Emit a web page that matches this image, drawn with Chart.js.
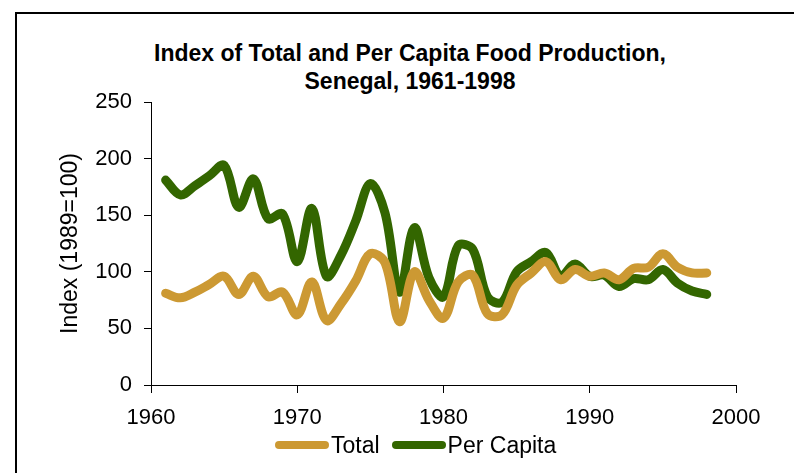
<!DOCTYPE html>
<html>
<head>
<meta charset="utf-8">
<script src="https://cdn.jsdelivr.net/npm/chart.js@4"></script>
<style>
    html, body { margin: 0; padding: 0; background: #fff; }
    body { width: 794px; height: 473px; overflow: hidden; position: relative; font-family: "Liberation Sans", Arial, sans-serif; }
    #frame { position: absolute; left: 15px; top: 12px; width: 900px; height: 600px; border-left: 2px solid #000; border-top: 2px solid #000; }
    #title { position: absolute; left: 0; top: 39px; width: 820px; text-align: center; font-weight: bold; font-size: 23px; line-height: 28px; color: #000; }
    #wrap { position: absolute; left: 17px; top: 14px; width: 790px; height: 420px; }
    #legend { position: absolute; left: 275px; top: 431px; height: 28px; display: flex; align-items: center; font-size: 23px; color: #000; }
    .swatch { display: inline-block; width: 54px; height: 8px; border-radius: 4px; margin-right: 2px; }
    .item { display: flex; align-items: center; margin-right: 12px; }
</style>
</head>
<body>
<div id="frame"></div>
<div id="title">Index of Total and Per Capita Food Production,<br>Senegal, 1961-1998</div>
<div id="wrap"><canvas id="foodChart"></canvas></div>
<div id="legend">
    <span class="item"><span class="swatch" style="background:#CC9933"></span>Total</span>
    <span class="item"><span class="swatch" style="background:#336600"></span>Per Capita</span>
</div>
<script>
// 年次（1961-1998）
const years = [1961, 1962, 1963, 1964, 1965, 1966, 1967, 1968, 1969, 1970,
    1971, 1972, 1973, 1974, 1975, 1976, 1977, 1978, 1979, 1980,
    1981, 1982, 1983, 1984, 1985, 1986, 1987, 1988, 1989, 1990,
    1991, 1992, 1993, 1994, 1995, 1996, 1997, 1998];

const totalIndex = [81, 77, 82, 89, 96, 80, 96, 78, 82, 62,
    91, 57, 72, 92, 116, 108, 56, 100, 75, 59,
    91, 97, 63, 62, 88, 99, 109, 93, 102, 96,
    99, 93, 103, 104, 116, 104, 99, 99];

const perCapitaIndex = [181, 168, 176, 185, 194, 157, 182, 147, 151, 109,
    156, 96, 115, 145, 178, 152, 82, 139, 95, 78,
    123, 120, 78, 73, 100, 109, 117, 96, 107, 96,
    97, 87, 94, 93, 102, 90, 83, 80];

const xTicks = [1960, 1970, 1980, 1990, 2000];
const yTicks = [0, 50, 100, 150, 200, 250];

const toPoints = values => years.map((yr, i) => ({ x: yr, y: values[i] }));

const ctx = document.getElementById('foodChart').getContext('2d');

new Chart(ctx, {
    type: 'line',
    data: {
        datasets: [{
            label: 'Total',
            data: toPoints(totalIndex),
            borderColor: '#CC9933',
            borderWidth: 9,
            borderCapStyle: 'round',
            borderJoinStyle: 'round',
            pointRadius: 0,
            tension: 0.35,
            fill: false
        }, {
            label: 'Per Capita',
            data: toPoints(perCapitaIndex),
            borderColor: '#336600',
            borderWidth: 9,
            borderCapStyle: 'round',
            borderJoinStyle: 'round',
            pointRadius: 0,
            tension: 0.35,
            fill: false
        }]
    },
    options: {
        responsive: true,
        maintainAspectRatio: false,
        animation: false,
        layout: { padding: { top: 88, right: 71, left: 0, bottom: 0 } },
        plugins: {
            legend: { display: false },
            title: { display: false },
            tooltip: { enabled: false }
        },
        scales: {
            x: {
                type: 'linear',
                min: xTicks[0],
                max: xTicks[xTicks.length - 1],
                afterFit: scale => { scale.height = 49; },
                afterBuildTicks: scale => { scale.ticks = xTicks.map(v => ({ value: v })); },
                grid: { display: true, drawOnChartArea: false, drawTicks: true, tickLength: 8, color: '#000' },
                border: { display: true, color: '#000', width: 1 },
                ticks: {
                    color: '#000',
                    padding: 12,
                    font: { family: '"Liberation Sans", Arial', size: 22 },
                    callback: value => String(value)
                }
            },
            y: {
                min: yTicks[0],
                max: yTicks[yTicks.length - 1],
                afterFit: scale => { scale.width = 134; },
                afterBuildTicks: scale => { scale.ticks = yTicks.map(v => ({ value: v })); },
                grid: { display: true, drawOnChartArea: false, drawTicks: true, tickLength: 7, color: '#000' },
                border: { display: true, color: '#000', width: 1 },
                ticks: {
                    color: '#000',
                    padding: 12,
                    font: { family: '"Liberation Sans", Arial', size: 22 }
                },
                title: {
                    display: true,
                    text: 'Index (1989=100)',
                    color: '#000',
                    padding: { top: 40, bottom: 0 },
                    font: { family: '"Liberation Sans", Arial', size: 23 }
                }
            }
        }
    }
});
</script>
</body>
</html>
